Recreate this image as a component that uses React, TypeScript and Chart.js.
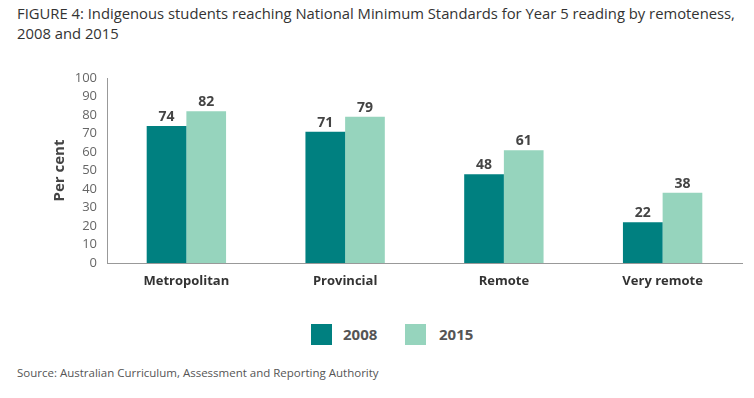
import React, { useEffect, useRef } from "react";
import { Chart, registerables } from "chart.js";

Chart.register(...registerables);

const categories = ["Metropolitan", "Provincial", "Remote", "Very remote"];
const series2008 = [74, 71, 48, 22];
const series2015 = [82, 79, 61, 38];
const seriesLabels = ["2008", "2015"];
const colors = ["#008080", "#96D4BD"];
const FONT = "'Open Sans', Lato, sans-serif";

const valueLabels = {
  id: "valueLabels",
  afterDatasetsDraw(chart: any) {
    const ctx = chart.ctx;
    ctx.save();
    ctx.font = `bold 14px ${FONT}`;
    ctx.fillStyle = "#444";
    ctx.textAlign = "center";
    ctx.textBaseline = "bottom";
    chart.data.datasets.forEach((ds: any, i: number) => {
      const meta = chart.getDatasetMeta(i);
      meta.data.forEach((el: any, j: number) => {
        ctx.fillText(String(ds.data[j]), el.x, el.y - 2);
      });
    });
    ctx.font = `bold 15px ${FONT}`;
    ctx.fillStyle = "#444";
    ctx.translate(60, (chart.chartArea.top + chart.chartArea.bottom) / 2);
    ctx.rotate(-Math.PI / 2);
    ctx.textAlign = "center";
    ctx.textBaseline = "middle";
    ctx.fillText("Per cent", 0, 0);
    ctx.restore();
  },
};

export default function App() {
  const ref = useRef<HTMLCanvasElement>(null);
  useEffect(() => {
    if (!ref.current) return;
    const chart = new Chart(ref.current, {
      type: "bar",
      data: {
        labels: categories,
        datasets: [
          { label: seriesLabels[0], data: series2008, backgroundColor: colors[0] },
          { label: seriesLabels[1], data: series2015, backgroundColor: colors[1] },
        ],
      },
      options: {
        animation: false,
        responsive: false,
        maintainAspectRatio: false,
        layout: { padding: { top: 18, right: 12, left: 0, bottom: 0 } },
        datasets: { bar: { categoryPercentage: 0.5, barPercentage: 1.0 } } as any,
        plugins: { legend: { display: false }, tooltip: { enabled: false } },
        scales: {
          x: {
            grid: { display: false, drawTicks: false },
            border: { color: "#999", width: 1 },
            ticks: { color: "#333", font: { family: FONT, size: 13, weight: "bold" }, padding: 10 },
            afterFit: (s: any) => { s.height = 37; },
          },
          y: {
            min: 0,
            max: 100,
            grid: { display: false, drawTicks: false },
            border: { color: "#999", width: 1 },
            ticks: { stepSize: 10, autoSkip: false, color: "#666", font: { family: FONT, size: 13 }, padding: 10 },
            afterFit: (s: any) => { s.width = 107; },
          },
        },
      },
      plugins: [valueLabels],
    });
    return () => chart.destroy();
  }, []);

  return (
    <div style={{ position: "fixed", left: 0, top: 0, width: 754, height: 398, background: "#fff", fontFamily: FONT }}>
      <div style={{ position: "absolute", left: 17, top: 3, fontSize: 14.8, lineHeight: "20px", color: "#333", width: 740, whiteSpace: "nowrap" }}>
        FIGURE 4: Indigenous students reaching National Minimum Standards for Year 5 reading by remoteness,<br />
        2008 and 2015
      </div>
      <canvas ref={ref} width={754} height={240} style={{ position: "absolute", left: 0, top: 60, width: 754, height: 240 }} />
      <div style={{ position: "absolute", left: 311, top: 324, width: 21, height: 21, background: colors[0] }} />
      <div style={{ position: "absolute", left: 343, top: 324, fontSize: 15, fontWeight: "bold", color: "#555", lineHeight: "21px" }}>{seriesLabels[0]}</div>
      <div style={{ position: "absolute", left: 405, top: 324, width: 21, height: 21, background: colors[1] }} />
      <div style={{ position: "absolute", left: 439, top: 324, fontSize: 15, fontWeight: "bold", color: "#555", lineHeight: "21px" }}>{seriesLabels[1]}</div>
      <div style={{ position: "absolute", left: 17, top: 365, fontSize: 11.5, color: "#555", lineHeight: "16px" }}>
        Source: Australian Curriculum, Assessment and Reporting Authority
      </div>
    </div>
  );
}
